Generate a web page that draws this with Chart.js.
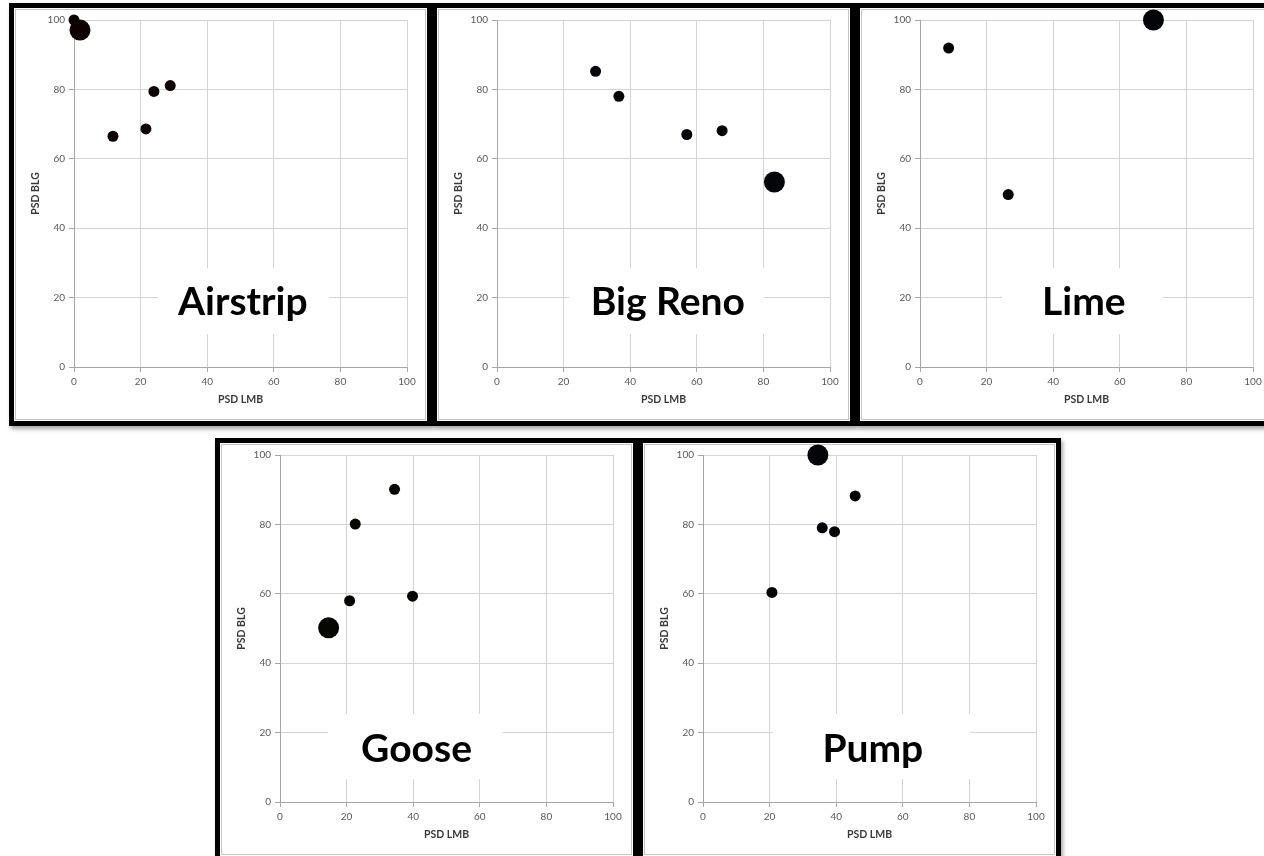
<!DOCTYPE html>
<html>
<head>
<meta charset="utf-8">
<title>PSD LMB vs PSD BLG by lake</title>
<script src="https://cdn.jsdelivr.net/npm/chart.js@4/dist/chart.umd.min.js"></script>
<style>
  html, body { margin: 0; padding: 0; background: #ffffff; }
  body { width: 1264px; height: 856px; position: relative; overflow: hidden; }
  .panel {
    position: absolute;
    border: 5px solid #000;
    background: #fff;
    box-shadow: 2px 3px 4px rgba(0, 0, 0, 0.35);
    width: 413px; height: 413px;
  }
  .panel canvas { display: block; }
</style>
</head>
<body>
<div class="panel" style="left:9px; top:3px;"><canvas id="airstrip" width="413" height="413"></canvas></div>
<div class="panel" style="left:432px; top:3px;"><canvas id="bigReno" width="413" height="413"></canvas></div>
<div class="panel" style="left:855px; top:3px;"><canvas id="lime" width="413" height="413"></canvas></div>
<div class="panel" style="left:215px; top:438px;"><canvas id="goose" width="413" height="413"></canvas></div>
<div class="panel" style="left:638px; top:438px;"><canvas id="pump" width="413" height="413"></canvas></div>

<script>
// Axis ticks shared by every lake plot
const axisTicks = [0, 20, 40, 60, 80, 100];

// Airstrip
const airstripLMB = [0, 11.7, 21.6, 24.0, 28.9];
const airstripBLG = [100, 66.5, 68.6, 79.4, 81.1];
const airstripHighlightLMB = [1.8];
const airstripHighlightBLG = [97.1];

// Big Reno
const bigRenoLMB = [29.6, 36.6, 57.0, 67.6];
const bigRenoBLG = [85.2, 78.0, 67.0, 68.1];
const bigRenoHighlightLMB = [83.3];
const bigRenoHighlightBLG = [53.3];

// Lime
const limeLMB = [8.6, 26.5];
const limeBLG = [91.9, 49.7];
const limeHighlightLMB = [70.1];
const limeHighlightBLG = [100];

// Goose
const gooseLMB = [34.4, 22.6, 20.9, 39.8];
const gooseBLG = [90.1, 80.1, 58.0, 59.3];
const gooseHighlightLMB = [14.6];
const gooseHighlightBLG = [50.2];

// Pump
const pumpLMB = [45.7, 35.8, 39.5, 20.7];
const pumpBLG = [88.2, 79.0, 77.9, 60.4];
const pumpHighlightLMB = [34.5];
const pumpHighlightBLG = [100];

const toPoints = (xs, ys) => xs.map((x, i) => ({ x: x, y: ys[i] }));

// White chart area with a faint inner frame
const frame = {
  id: 'frame',
  beforeDraw(chart) {
    const { ctx, width, height } = chart;
    ctx.save();
    ctx.fillStyle = '#ffffff';
    ctx.fillRect(0, 0, width, height);
    ctx.strokeStyle = '#c4c4c4';
    ctx.lineWidth = 1;
    ctx.strokeRect(1.5, 1.5, width - 3, height - 3);
    ctx.restore();
  }
};

// Lake name on a white box that hides the grid behind it
const lakeCaption = {
  id: 'lakeCaption',
  beforeDatasetsDraw(chart, args, opts) {
    if (!opts || !opts.text) return;
    const { ctx } = chart;
    const xs = chart.scales.x, ys = chart.scales.y;
    const x0 = xs.getPixelForValue(opts.box[0]);
    const x1 = xs.getPixelForValue(opts.box[1]);
    const y0 = ys.getPixelForValue(opts.box[3]);
    const y1 = ys.getPixelForValue(opts.box[2]);
    ctx.save();
    ctx.fillStyle = '#ffffff';
    ctx.fillRect(x0, y0, x1 - x0, y1 - y0);
    ctx.fillStyle = '#000000';
    ctx.font = 'bold 39px Lato, "Open Sans", sans-serif';
    ctx.textAlign = 'center';
    ctx.textBaseline = 'alphabetic';
    ctx.fillText(opts.text, xs.getPixelForValue(opts.cx), ys.getPixelForValue(opts.baseline));
    ctx.restore();
  }
};

function axis(title, horizontal) {
  return {
    type: 'linear',
    min: 0,
    max: 100,
    afterBuildTicks(scale) { scale.ticks = axisTicks.map(v => ({ value: v })); },
    afterFit(scale) {
      if (horizontal) scale.height = 54; else scale.width = 60;
    },
    grid: { color: '#d4d4d4', lineWidth: 1, tickLength: 5, tickColor: '#a6a6a6' },
    border: { color: '#a6a6a6', width: 1 },
    ticks: {
      color: '#595959',
      padding: 4,
      font: { family: 'Lato, "Open Sans", sans-serif', size: 10 }
    },
    title: {
      display: true,
      text: title,
      color: '#3a3a3a',
      font: { family: 'Lato, "Open Sans", sans-serif', size: 10.5, weight: 'bold' },
      padding: horizontal ? { top: 0, bottom: 15 } : { top: 15, bottom: 0 }
    }
  };
}

function lakePlot(id, name, lmb, blg, hiLmb, hiBlg, caption, dotColor) {
  new Chart(document.getElementById(id), {
    type: 'scatter',
    data: {
      datasets: [
        {
          label: name,
          data: toPoints(lmb, blg),
          backgroundColor: dotColor,
          borderColor: dotColor,
          borderWidth: 0,
          pointRadius: 5.5,
          clip: false
        },
        {
          label: name + ' highlight',
          data: toPoints(hiLmb, hiBlg),
          backgroundColor: dotColor,
          borderColor: dotColor,
          borderWidth: 0,
          pointRadius: 10.5,
          clip: false
        }
      ]
    },
    options: {
      responsive: false,
      animation: false,
      events: [],
      layout: { padding: { top: 12, right: 20, left: 0, bottom: 0 } },
      scales: {
        x: axis('PSD LMB', true),
        y: axis('PSD BLG', false)
      },
      plugins: {
        legend: { display: false },
        tooltip: { enabled: false },
        lakeCaption: Object.assign({ text: name }, caption)
      }
    },
    plugins: [frame, lakeCaption]
  });
}

lakePlot('airstrip', 'Airstrip', airstripLMB, airstripBLG, airstripHighlightLMB, airstripHighlightBLG,
  { cx: 50.7, baseline: 14.9, box: [25.2, 76.6, 9.5, 28.5] }, '#0c0202');
lakePlot('bigReno', 'Big Reno', bigRenoLMB, bigRenoBLG, bigRenoHighlightLMB, bigRenoHighlightBLG,
  { cx: 51.3, baseline: 14.9, box: [21.6, 80.2, 9.5, 28.5] }, '#030509');
lakePlot('lime', 'Lime', limeLMB, limeBLG, limeHighlightLMB, limeHighlightBLG,
  { cx: 49.2, baseline: 14.9, box: [24.6, 73.0, 9.5, 28.5] }, '#030509');
lakePlot('goose', 'Goose', gooseLMB, gooseBLG, gooseHighlightLMB, gooseHighlightBLG,
  { cx: 41.0, baseline: 11.4, box: [14.5, 66.9, 6.6, 25.4] }, '#060603');
lakePlot('pump', 'Pump', pumpLMB, pumpBLG, pumpHighlightLMB, pumpHighlightBLG,
  { cx: 51.0, baseline: 11.4, box: [21.0, 80.2, 6.6, 25.4] }, '#030509');
</script>
</body>
</html>
